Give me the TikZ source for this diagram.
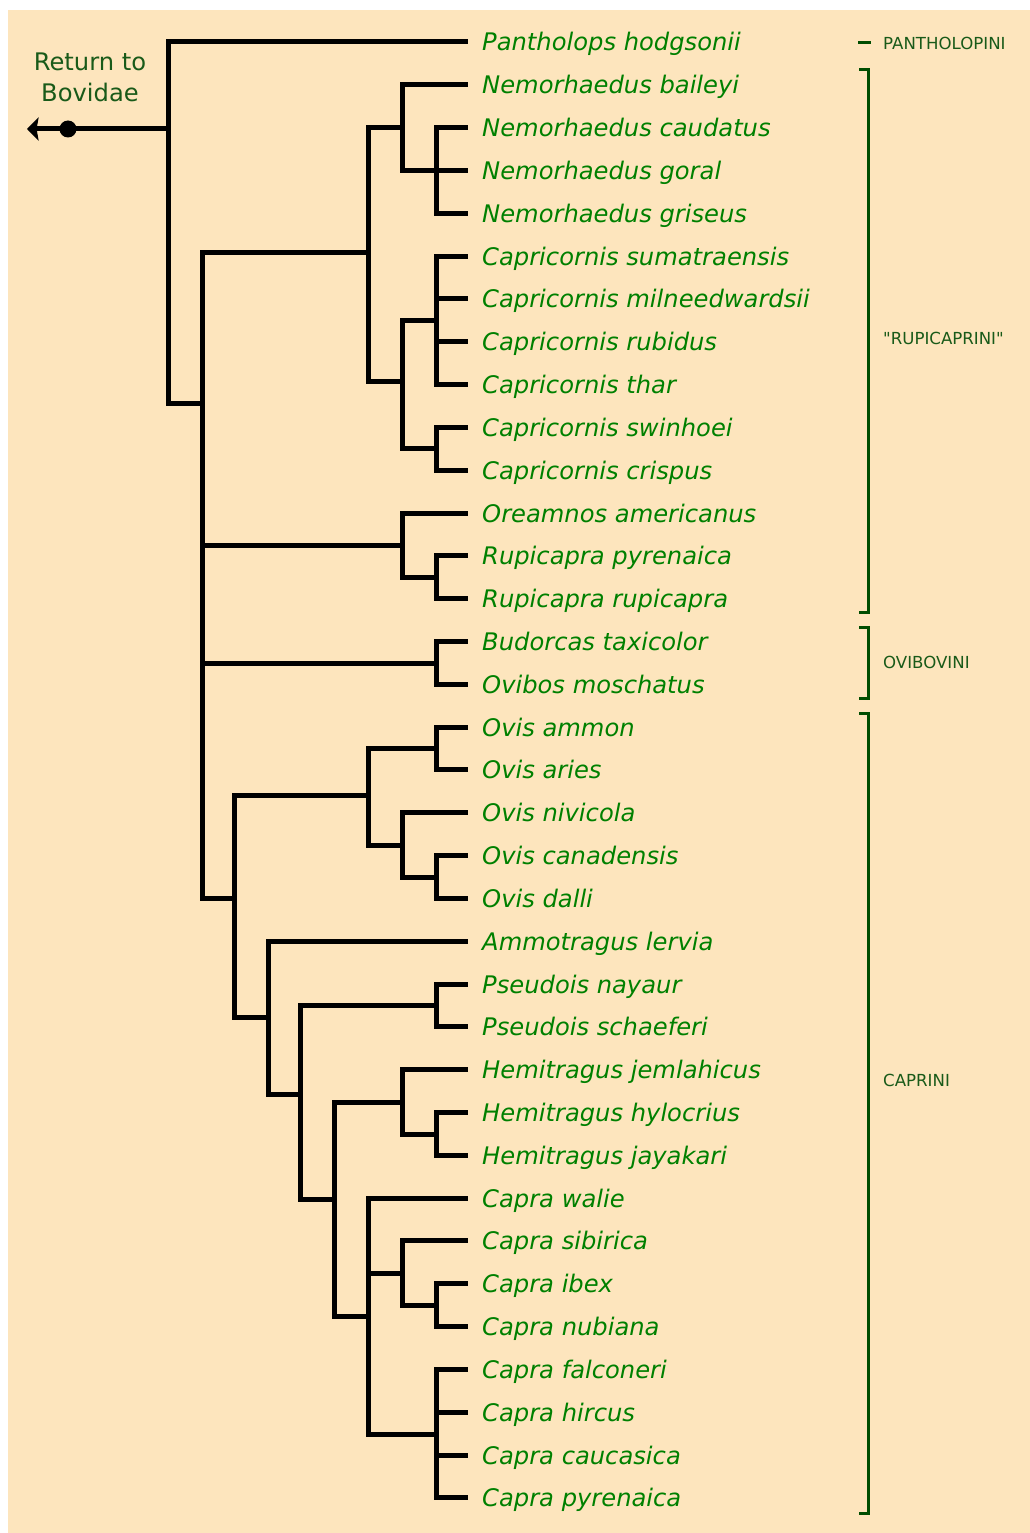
\documentclass[tikz,border=0pt]{standalone}
\usepackage{fontspec}
\setmainfont{DejaVu Sans}
\newfontfamily\cladefont[Ligatures=TeXOff]{DejaVu Sans}
\usetikzlibrary{arrows.meta}
\definecolor{bg}{RGB}{253,229,189}
\definecolor{spc}{RGB}{0,128,0}
\definecolor{clc}{RGB}{25,90,25}
\definecolor{brc}{RGB}{0,77,0}
\begin{document}
\begin{tikzpicture}[x=1pt,y=-1pt,
  branch/.style={line width=5pt, black, line join=miter},
  species/.style={anchor=base west, inner sep=0pt, text=spc, font=\fontsize{24.2}{29}\selectfont\itshape, yshift=-9pt},
  cladelab/.style={anchor=base west, inner sep=0pt, text=clc, font=\cladefont\fontsize{16.6}{20}\selectfont},
  bracket/.style={line width=3pt, brc},
  rettext/.style={anchor=base, inner sep=0pt, text=clc, font=\fontsize{24.2}{29}\selectfont}]
\fill[white] (0,0) rectangle (1030,1533);
\fill[bg] (8,10) rectangle (1030,1533);
\useasboundingbox (0,0) rectangle (1030,1533);

% leaves
\foreach \i/\nm in {0/Pantholops hodgsonii,1/Nemorhaedus baileyi,2/Nemorhaedus caudatus,3/Nemorhaedus goral,4/Nemorhaedus griseus,5/Capricornis sumatraensis,6/Capricornis milneedwardsii,7/Capricornis rubidus,8/Capricornis thar,9/Capricornis swinhoei,10/Capricornis crispus,11/Oreamnos americanus,12/Rupicapra pyrenaica,13/Rupicapra rupicapra,14/Budorcas taxicolor,15/Ovibos moschatus,16/Ovis ammon,17/Ovis aries,18/Ovis nivicola,19/Ovis canadensis,20/Ovis dalli,21/Ammotragus lervia,22/Pseudois nayaur,23/Pseudois schaeferi,24/Hemitragus jemlahicus,25/Hemitragus hylocrius,26/Hemitragus jayakari,27/Capra walie,28/Capra sibirica,29/Capra ibex,30/Capra nubiana,31/Capra falconeri,32/Capra hircus,33/Capra caucasica,34/Capra pyrenaica}{
  \coordinate (e\i) at (468,{42+42.82*\i});
  \node[species] (t\i) at (482,{42+42.82*\i}) {\nm};
}

% internal nodes
\coordinate (root) at (168,129);
\coordinate (A) at (202,403);
\coordinate (B) at (368,252);
\coordinate (C) at (402,128);
\coordinate (D) at (436,170.5);
\coordinate (E) at (402,381);
\coordinate (F) at (436,320.3);
\coordinate (G) at (436,448.8);
\coordinate (H) at (402,545);
\coordinate (I) at (436,577.3);
\coordinate (J) at (436,663);
\coordinate (K) at (234,898);
\coordinate (L) at (368,795);
\coordinate (M) at (436,748.5);
\coordinate (N) at (402,845);
\coordinate (O) at (436,877);
\coordinate (P) at (268,1017);
\coordinate (Q) at (300,1094);
\coordinate (R) at (436,1005.5);
\coordinate (S) at (334,1199);
\coordinate (T) at (402,1102);
\coordinate (U) at (436,1134);
\coordinate (V) at (368,1316);
\coordinate (W) at (402,1273);
\coordinate (X) at (436,1305.2);
\coordinate (Y) at (436,1434);
\coordinate (dot) at (68,129);
\coordinate (tip) at (27,129);

% branches
\foreach \p/\c in {root/e0,root/A,A/B,A/H,A/J,A/K,B/C,B/E,C/e1,C/D,D/e2,D/e3,D/e4,E/F,E/G,F/e5,F/e6,F/e7,F/e8,G/e9,G/e10,H/e11,H/I,I/e12,I/e13,J/e14,J/e15,K/L,K/P,L/M,L/N,M/e16,M/e17,N/e18,N/O,O/e19,O/e20,P/e21,P/Q,Q/R,Q/S,R/e22,R/e23,S/T,S/V,T/e24,T/U,U/e25,U/e26,V/e27,V/W,V/Y,W/e28,W/X,X/e29,X/e30,Y/e31,Y/e32,Y/e33,Y/e34}{
  \draw[branch] (\p) |- (\c);
}

% return arrow
\draw[branch, -{Stealth[length=11.6pt,width=23.4pt,inset=2pt]}] (root) -- (tip);
\fill (dot) circle (8.5);
\node[rettext] (ret1) at (90,71) {Return to};
\node[rettext] (ret2) at (90,102) {Bovidae};

% clade brackets
\draw[bracket] (858,42.3) -- (871,42.3);
\draw[bracket] (859,70) -- (868.7,70) -- (868.7,612) -- (859,612);
\draw[bracket] (859,627) -- (868.7,627) -- (868.7,698) -- (859,698);
\draw[bracket] (859,713) -- (868.7,713) -- (868.7,1513) -- (859,1513);
\node[cladelab] (c1) at (883,50) {PANTHOLOPINI};
\node[cladelab] (c2) at (883,344.3) {"RUPICAPRINI"};
\node[cladelab] (c3) at (883,668) {OVIBOVINI};
\node[cladelab] (c4) at (883,1086) {CAPRINI};
\end{tikzpicture}
\end{document}
